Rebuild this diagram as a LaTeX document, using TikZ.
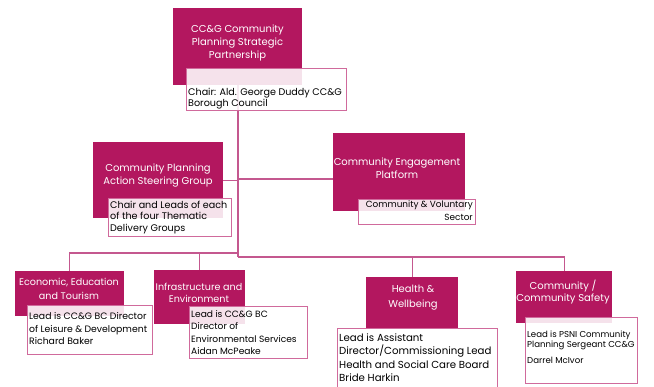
\documentclass[tikz,border=0pt]{standalone}
\usepackage{fontspec}
\setmainfont{Poppins}
\definecolor{mag}{HTML}{B3175F}
\definecolor{lnk}{HTML}{C4588F}
\definecolor{subln}{HTML}{D06A9C}
\newcommand{\fs}[2]{\fontsize{#1}{#2}\selectfont}
\tikzset{
  mainbox/.style={fill=mag, draw=none, inner sep=0pt, anchor=north west},
  maintext/.style={text=white, align=center, inner sep=0pt, font=\fs{10}{13}},
  subbox/.style={draw=subln, line width=1.2pt, fill=white, fill opacity=0.88, text opacity=1,
                 inner sep=0pt, anchor=north west},
  subtext/.style={text=black, inner sep=0pt, anchor=north west, align=left},
  conn/.style={draw=lnk, line width=1.1pt},
}
\begin{document}
\begin{tikzpicture}[x=1pt,y=-1pt]
\useasboundingbox (0,0) rectangle (654,387);
\coordinate (busL) at (238,253);
\coordinate (busR) at (238,257);
\coordinate (ceJ) at (238,179);
% main boxes
\node[mainbox, minimum width=129pt, minimum height=77pt] (top) at (173,8) {};
\node[mainbox, minimum width=130pt, minimum height=76pt] (cp) at (93,142) {};
\node[mainbox, minimum width=132pt, minimum height=78pt] (ce) at (333,133) {};
\node[mainbox, minimum width=109pt, minimum height=45pt] (econ) at (15,271) {};
\node[mainbox, minimum width=91pt, minimum height=54pt] (infra) at (154,270) {};
\node[mainbox, minimum width=92pt, minimum height=51pt] (health) at (366,277) {};
\node[mainbox, minimum width=96pt, minimum height=52pt] (cs) at (516,271) {};
% connectors
\draw[conn] (top.south -| busR) -- (busR);
\draw[conn] (cp.east) -- (cp.east -| busL);
\draw[conn] (ceJ) -- (ceJ -| ce.west);
\draw[conn] (busL) -- (busL -| econ.north) -- (econ.north);
\draw[conn] (busL -| infra.north) -- (infra.north);
\draw[conn] (busR) -- (busR -| cs.north) -- (cs.north);
\draw[conn] (busR -| health.north) -- (health.north);
% main texts
\node[maintext] (toptext) at (237.5,42.5) {CC\&G Community\\Planning Strategic\\Partnership};
\node[maintext] (cptext) at (158,176) {Community Planning\\Action Steering Group};
\node[maintext] (cetext) at (397,168) {Community Engagement\\Platform};
\node[maintext, font=\fs{9.6}{13.5}] (econtext) at (69,289) {Economic, Education\\and Tourism};
\node[maintext, font=\fs{9.6}{12}] (infratext) at (199,292.5) {Infrastructure and\\Environment};
\node[maintext, font=\fs{10}{14.5}] (healthtext) at (413,297.5) {Health \&\\Wellbeing};
\node[maintext, font=\fs{10}{12}] (cstext) at (563,292.5) {Community /\\Community Safety};
% sub boxes
\node[subbox, minimum width=160pt, minimum height=42pt] (topsub) at (186,68) {};
\node[subbox, minimum width=123pt, minimum height=38pt] (cpsub) at (108,198) {};
\node[subbox, minimum width=117pt, minimum height=25pt] (cesub) at (358,199) {};
\node[subbox, minimum width=125pt, minimum height=49pt] (econsub) at (27,305) {};
\node[subbox, minimum width=118pt, minimum height=52pt] (infrasub) at (189,306) {};
\node[subbox, minimum width=160pt, minimum height=70pt] (healthsub) at (337,328) {};
\node[subbox, minimum width=112pt, minimum height=66pt] (cssub) at (525,317) {};
% sub texts
\node[subtext, font=\fs{9.6}{10.5}] (topsubt) at (188,88) {Chair: Ald. George Duddy CC\&G\\Borough Council};
\node[subtext, font=\fs{9.6}{11.5}] (cpsubt) at (110,200.5) {Chair and Leads of each\\of the four Thematic\\Delivery Groups};
\node[subtext, font=\fs{8.9}{13}, anchor=north east, align=right] (cesubt) at (473,200.5) {Community \& Voluntary\\Sector};
\node[subtext, font=\fs{9.3}{12.5}] (econsubt) at (29,312.5) {Lead is CC\&G BC Director\\of Leisure \& Development\\Richard Baker};
\node[subtext, font=\fs{9.1}{12.3}] (infrasubt) at (191,310.5) {Lead is CC\&G BC\\Director of\\Environmental Services\\Aidan McPeake};
\node[subtext, font=\fs{10.2}{13.4}] (healthsubt) at (339,333.5) {Lead is Assistant\\Director/Commissioning Lead\\Health and Social Care Board\\Bride Harkin};
\node[subtext, font=\fs{8.6}{10}] (cssubt) at (527,331) {Lead is PSNI Community\\Planning Sergeant CC\&G\\[6pt]Darrel McIvor};
\end{tikzpicture}
\end{document}
